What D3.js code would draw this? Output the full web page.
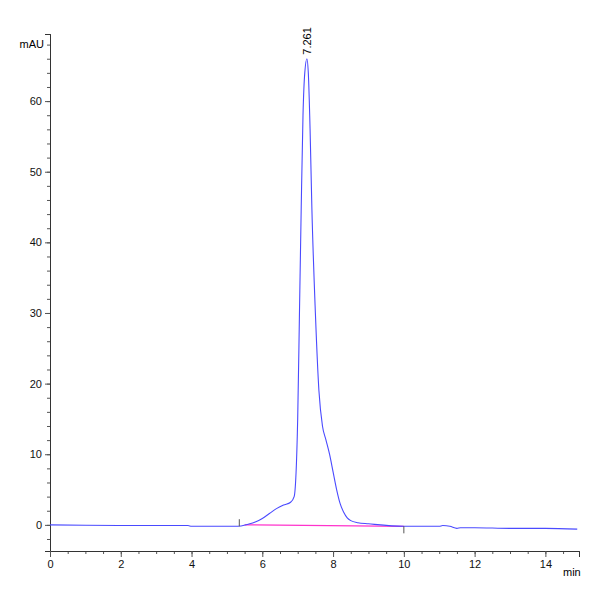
<!DOCTYPE html><html><head><meta charset="utf-8">
<script src="https://cdn.jsdelivr.net/npm/d3@7"></script>
<style>body{margin:0;background:#fff}text{font-family:"Liberation Sans Narrow","Liberation Sans",Arial,sans-serif}</style></head><body>
<svg id="c" width="600" height="600"></svg>
<script>
const times=[0,1,3,3.9,4,5.3,5.6,5.8,6.0,6.2,6.4,6.6,6.8,6.9,7.0,7.05,7.1,7.15,7.2,7.261,7.3,7.35,7.4,7.5,7.6,7.7,7.8,7.9,8.0,8.1,8.2,8.3,8.4,8.5,8.7,9,10,11,11.1,11.3,11.5,11.6,12,13,14,14.9];
const signal=[0,-0.05,-0.1,-0.1,-0.2,-0.2,0.1,0.4,0.9,1.6,2.3,2.8,3.2,4,15,30,45,58,64,66,64,56,45,30,19,14,12,10,7.5,5,3,1.8,1,0.6,0.3,0.15,-0.2,-0.2,-0.1,-0.2,-0.5,-0.4,-0.4,-0.5,-0.5,-0.6];
const baseT=[5.5,10], baseV=[0,-0.2];
const xTicks=[0,2,4,6,8,10,12,14], yTicks=[0,10,20,30,40,50,60];
const peakT=7.261, peakV=66, peakLabel="7.261";
const svg=d3.select("#c");
const x=d3.scaleLinear().domain([0,14.95]).range([50,579]);
const y=d3.scaleLinear().domain([-3.7,69.5]).range([551,34]);
const g=svg.append("g");
// y axis
g.append("g").attr("transform","translate(50,0)").call(d3.axisLeft(y).tickValues(d3.range(-2,69,2)).tickSize(3).tickFormat(""));
g.append("g").attr("transform","translate(50,0)").call(d3.axisLeft(y).tickValues(yTicks).tickSize(5).tickFormat(d3.format("d")));
g.append("g").attr("transform","translate(0,551)").call(d3.axisBottom(x).tickValues(d3.range(0,14.9,0.5)).tickSize(3).tickFormat(""));
g.append("g").attr("transform","translate(0,551)").call(d3.axisBottom(x).tickValues(xTicks).tickSize(6).tickFormat(d3.format("d")));
svg.selectAll(".domain").attr("stroke","#333");
svg.selectAll(".tick line").attr("stroke","#555");
svg.selectAll(".tick text").attr("font-size",11).attr("fill","#111");
svg.append("text").attr("x",44).attr("y",48).attr("text-anchor","end").attr("font-size",11).text("mAU");
svg.append("text").attr("x",563).attr("y",576).attr("font-size",11).text("min");
const line=d3.line().x((d,i)=>x(d[0])).y(d=>y(d[1]));
svg.append("path").datum(d3.zip(baseT,baseV)).attr("d",line).attr("fill","none").attr("stroke","#ff33cc").attr("stroke-width",1.2);
svg.append("path").datum(d3.zip(times,signal)).attr("d",d3.line().x(d=>x(d[0])).y(d=>y(d[1])).curve(d3.curveMonotoneX)).attr("fill","none").attr("stroke","#4a4aff").attr("stroke-width",1.1);
svg.append("line").attr("x1",x(5.35)).attr("x2",x(5.35)).attr("y1",y(0.8)).attr("y2",y(-0.2)).attr("stroke","#555");
svg.append("line").attr("x1",x(10)).attr("x2",x(10)).attr("y1",y(-0.2)).attr("y2",y(-1.2)).attr("stroke","#555");
svg.append("text").attr("transform",`translate(${x(peakT)+4},${y(peakV)-4}) rotate(-90)`).attr("font-size",11).text(peakLabel);
</script></body></html>
